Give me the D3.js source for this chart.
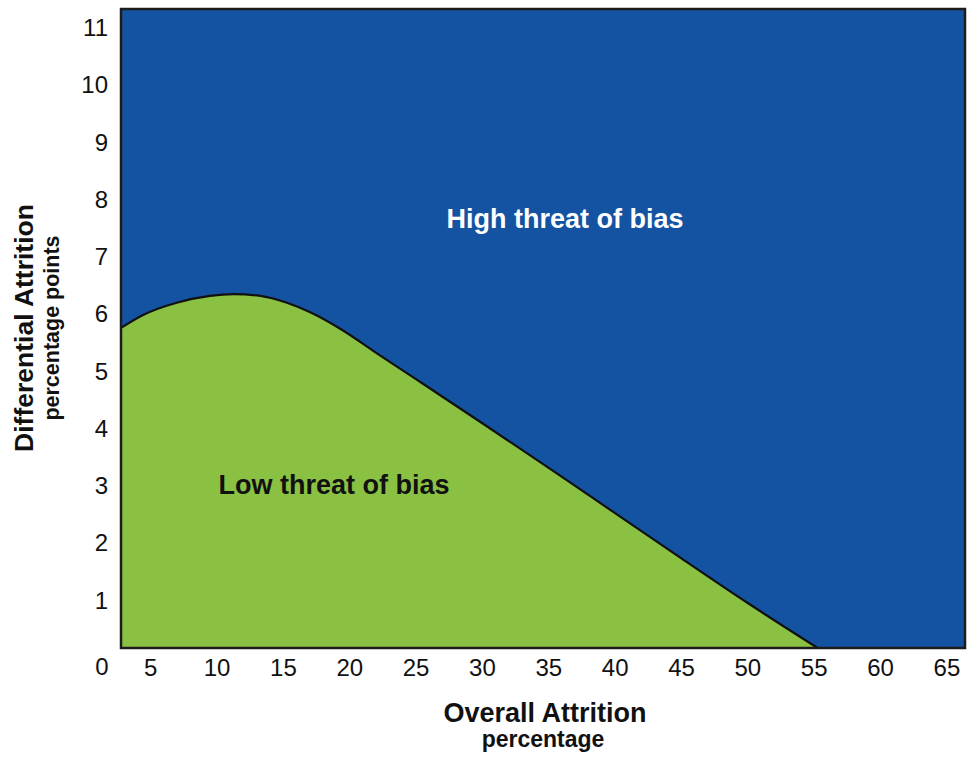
<!DOCTYPE html>
<html>
<head>
<meta charset="utf-8">
<script src="https://cdn.jsdelivr.net/npm/d3@7"></script>
<style>
  body { margin: 0; background: #fff; }
  svg text { font-family: "Liberation Sans", Arial, sans-serif; }
</style>
</head>
<body>
<script>
// boundary between low and high threat
const overallAttrition = [2.8, 4.5, 7, 9.5, 11.3, 13.3, 15.3, 17.1, 19.5, 22, 25, 30, 35, 40, 45, 50, 55.3];
const differentialAttrition = [5.76, 5.99, 6.2, 6.32, 6.35, 6.32, 6.2, 6.03, 5.72, 5.33, 4.87, 4.1, 3.32, 2.53, 1.74, 0.96, 0.17];
const xTicks = [5, 10, 15, 20, 25, 30, 35, 40, 45, 50, 55, 60, 65];
const yTicks = [1, 2, 3, 4, 5, 6, 7, 8, 9, 10, 11];

const w = 969, h = 757;
const plotL = 121, plotR = 965, plotT = 9, plotB = 648;

const xScale = d3.scaleLinear().domain([2.8, 66.4]).range([plotL, plotR]);
const yScale = d3.scaleLinear().domain([0.17, 11.33]).range([plotB, plotT]);

const svg = d3.select("body").append("svg")
  .attr("width", w)
  .attr("height", h);

// high threat region = whole plot
svg.append("rect")
  .attr("x", plotL).attr("y", plotT)
  .attr("width", plotR - plotL).attr("height", plotB - plotT)
  .attr("fill", "#1453a1");

const pts = overallAttrition.map((x, i) => [x, differentialAttrition[i]]);

const area = d3.area()
  .x(d => xScale(d[0]))
  .y0(yScale(yScale.domain()[0]))
  .y1(d => yScale(d[1]))
  .curve(d3.curveMonotoneX);

svg.append("path")
  .datum(pts)
  .attr("d", area)
  .attr("fill", "#8bc142");

const line = d3.line()
  .x(d => xScale(d[0]))
  .y(d => yScale(d[1]))
  .curve(d3.curveMonotoneX);

svg.append("path")
  .datum(pts)
  .attr("d", line)
  .attr("fill", "none")
  .attr("stroke", "#111")
  .attr("stroke-width", 2.2);

// frame
svg.append("rect")
  .attr("x", plotL).attr("y", plotT)
  .attr("width", plotR - plotL).attr("height", plotB - plotT)
  .attr("fill", "none")
  .attr("stroke", "#1c1c1c")
  .attr("stroke-width", 2.5);

const xAxis = d3.axisBottom(xScale).tickValues(xTicks).tickSize(0).tickPadding(11);
const yAxis = d3.axisLeft(yScale).tickValues(yTicks).tickSize(0).tickPadding(13);

const gx = svg.append("g")
  .attr("transform", "translate(0," + plotB + ")")
  .call(xAxis);
gx.select(".domain").remove();
gx.selectAll("text").attr("font-size", 24).attr("fill", "#111")
  .attr("font-family", "Liberation Sans, Arial, sans-serif");

const gy = svg.append("g")
  .attr("transform", "translate(" + plotL + ",0)")
  .call(yAxis);
gy.select(".domain").remove();
gy.selectAll("text").attr("font-size", 24).attr("fill", "#111")
  .attr("font-family", "Liberation Sans, Arial, sans-serif");

// shared origin label
svg.append("text")
  .attr("x", 102).attr("y", 675)
  .attr("text-anchor", "middle")
  .attr("font-size", 24).attr("fill", "#111")
  .text("0");

// region labels
svg.append("text")
  .attr("x", 565).attr("y", 228)
  .attr("text-anchor", "middle")
  .attr("font-size", 27).attr("font-weight", "bold").attr("fill", "#fff")
  .text("High threat of bias");

svg.append("text")
  .attr("x", 334).attr("y", 494)
  .attr("text-anchor", "middle")
  .attr("font-size", 27).attr("font-weight", "bold").attr("fill", "#111")
  .text("Low threat of bias");

// axis titles
svg.append("text")
  .attr("x", 545).attr("y", 722)
  .attr("text-anchor", "middle")
  .attr("font-size", 27).attr("font-weight", "bold").attr("fill", "#111")
  .text("Overall Attrition");
svg.append("text")
  .attr("x", 543).attr("y", 747)
  .attr("text-anchor", "middle")
  .attr("font-size", 23).attr("font-weight", "bold").attr("fill", "#111")
  .text("percentage");

svg.append("text")
  .attr("transform", "translate(33,328) rotate(-90)")
  .attr("text-anchor", "middle")
  .attr("font-size", 26.5).attr("font-weight", "bold").attr("fill", "#111")
  .text("Differential Attrition");
svg.append("text")
  .attr("transform", "translate(59,328) rotate(-90)")
  .attr("text-anchor", "middle")
  .attr("font-size", 21.5).attr("font-weight", "bold").attr("fill", "#111")
  .text("percentage points");
</script>
</body>
</html>
